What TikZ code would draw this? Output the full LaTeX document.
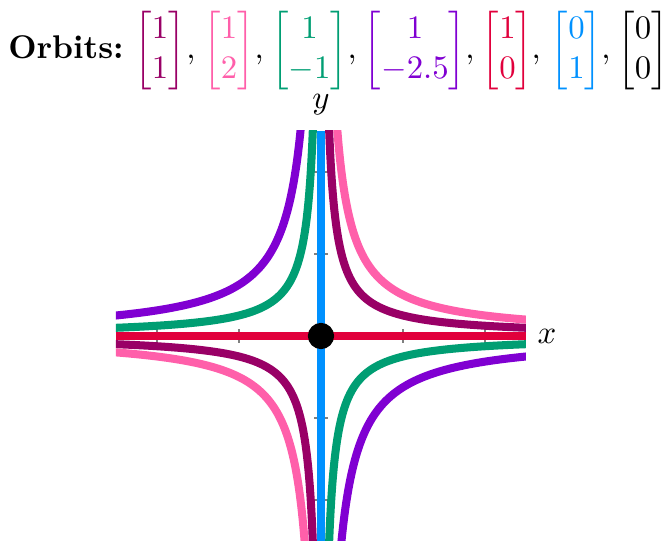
\documentclass[tikz,border=0pt]{standalone}
\usepackage{amsmath}
\usepackage{tikz}
\usetikzlibrary{positioning}
\definecolor{orbA}{RGB}{153,0,102}
\definecolor{orbB}{RGB}{255,95,170}
\definecolor{orbC}{RGB}{0,158,115}
\definecolor{orbD}{RGB}{128,0,210}
\definecolor{orbE}{RGB}{225,0,60}
\definecolor{orbF}{RGB}{0,145,255}

\begin{document}
\begin{tikzpicture}[
	x=12.5pt, y=12.5pt,
	orbit/.style={line width=2.45pt},
	tickmark/.style={gray, line width=0.4pt},
	dot/.style={circle, fill=black, minimum size=8pt, inner sep=0pt},
	vec/.style={anchor=base, inner sep=0pt},
	axislabel/.style={inner sep=3.33pt}
	]
	\useasboundingbox (-7.829,-5) rectangle (8.415,8.195);
	
	% Title
	\node[vec] (orbits) at (-6.22,6.756) {\textbf{Orbits:}};
	\node[vec] (mA) at (-3.927,6.756) {$\textcolor{orbA}{\begin{bmatrix}1\\1\end{bmatrix}}$};
	\node[vec] (mB) at (-2.244,6.756) {$\textcolor{orbB}{\begin{bmatrix}1\\2\end{bmatrix}}$};
	\node[vec] (mC) at (-0.281,6.756) {$\textcolor{orbC}{\begin{bmatrix}1\\-1\end{bmatrix}}$};
	\node[vec] (mD) at (2.293,6.756) {$\textcolor{orbD}{\begin{bmatrix}1\\-2.5\end{bmatrix}}$};
	\node[vec] (mE) at (4.549,6.756) {$\textcolor{orbE}{\begin{bmatrix}1\\0\end{bmatrix}}$};
	\node[vec] (mF) at (6.232,6.756) {$\textcolor{orbF}{\begin{bmatrix}0\\1\end{bmatrix}}$};
	\node[vec] (mG) at (7.854,6.756) {$\begin{bmatrix}0\\0\end{bmatrix}$};
	% Commas between vectors
	\foreach \cx/\cn in {-3.17/cA, -1.51/cB, 0.76/cC, 3.63/cD, 5.25/cE, 6.95/cF}
		\node[vec] (\cn) at (\cx,6.756) {,};
	
	% Axis ends
	\coordinate (xmin) at (-5,0);
	\coordinate (xmax) at (5,0);
	\coordinate (ymin) at (0,-5);
	\coordinate (ymax) at (0,5);
	
	% Ticks
	\foreach \t in {-4,-2,2,4} {
		\draw[tickmark] (\t,0) ++(0,-2pt) -- ++(0,4pt);
		\draw[tickmark] (0,\t) ++(-2pt,0) -- ++(4pt,0);
	}
	
	% Hyperbolic orbits xy = const
	\begin{scope}
		\clip (-5,-5) rectangle (5,5);
		\foreach \cst/\clr in {1/orbA, 2/orbB} {
			\draw[orbit, \clr] plot[domain=-2.6:2.6, samples=100, smooth]
				({sqrt(\cst)*exp(\x)}, {sqrt(\cst)*exp(-\x)});
			\draw[orbit, \clr] plot[domain=-2.6:2.6, samples=100, smooth]
				({-sqrt(\cst)*exp(\x)}, {-sqrt(\cst)*exp(-\x)});
		}
		\foreach \cst/\clr in {1/orbC, 2.5/orbD} {
			\draw[orbit, \clr] plot[domain=-2.6:2.6, samples=100, smooth]
				({sqrt(\cst)*exp(\x)}, {-sqrt(\cst)*exp(-\x)});
			\draw[orbit, \clr] plot[domain=-2.6:2.6, samples=100, smooth]
				({-sqrt(\cst)*exp(\x)}, {sqrt(\cst)*exp(-\x)});
		}
	\end{scope}
	
	% Axis orbits
	\draw[orbit, orbE] (xmin) -- (xmax);
	\draw[orbit, orbF] (ymin) -- (ymax);
	
	% Fixed point and labels
	\node[dot] (origin) at (0,0) {};
	\node[axislabel, right] (xlab) at (xmax) {$x$};
	\node[axislabel, above, yshift=1.5pt] (ylab) at (ymax) {$y$};
	
\end{tikzpicture}
\end{document}
